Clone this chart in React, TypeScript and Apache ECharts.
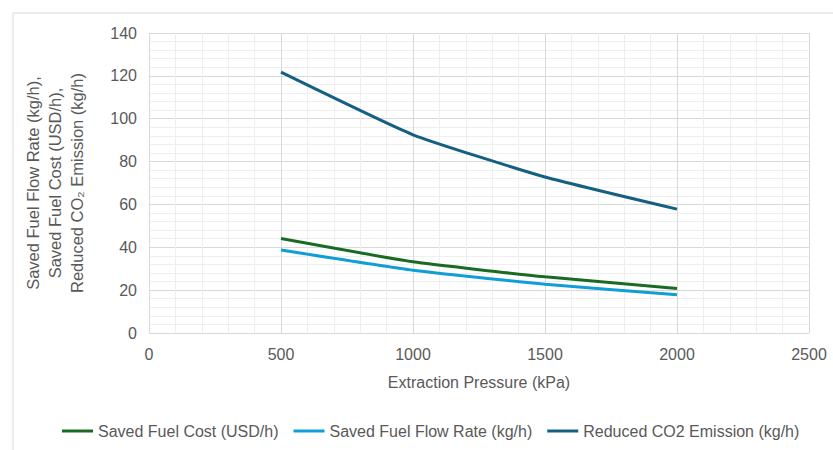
import React, { useEffect, useRef } from "react";
import * as echarts from "echarts";

const pressures = [500, 1000, 1500, 2000];
const savedFuelCost = [44.1, 33.2, 26.2, 20.8];
const savedFuelFlow = [38.7, 29.3, 22.8, 17.8];
const reducedCO2 = [121.7, 92.5, 72.8, 57.8];

const seriesNames = [
  "Saved Fuel Cost (USD/h)",
  "Saved Fuel Flow Rate (kg/h)",
  "Reduced CO2 Emission (kg/h)",
];
const seriesColors = ["#196B24", "#0F9ED5", "#156082"];
const yTitleLines = [
  "Saved Fuel Flow Rate (kg/h),",
  "Saved Fuel Cost (USD/h),",
  "Reduced CO₂ Emission (kg/h)",
];
const xTitle = "Extraction Pressure (kPa)";

const FONT = "'Liberation Sans', Arial, sans-serif";
const TEXT = "#595959";

export default function App() {
  const ref = useRef<HTMLDivElement>(null);

  useEffect(() => {
    if (!ref.current) return;
    const chart = echarts.init(ref.current, null, { renderer: "svg" });
    const values = [savedFuelCost, savedFuelFlow, reducedCO2];
    chart.setOption({
      animation: false,
      backgroundColor: "#ffffff",
      grid: { left: 149, right: 24, top: 33, bottom: 117 },
      xAxis: {
        type: "value",
        min: 0,
        max: 2500,
        interval: 500,
        name: xTitle,
        nameLocation: "middle",
        nameGap: 41,
        nameTextStyle: { color: TEXT, fontSize: 16, fontFamily: FONT },
        axisLine: { show: false },
        axisTick: { show: false },
        axisLabel: {
          color: TEXT,
          fontSize: 16,
          fontFamily: FONT,
          margin: 13,
          formatter: (v: number) => String(v),
        },
        splitLine: { show: true, lineStyle: { color: "#d9d9d9", width: 1 } },
        minorTick: { show: false, splitNumber: 5 },
        minorSplitLine: { show: true, lineStyle: { color: "#efefef", width: 1 } },
      },
      yAxis: {
        type: "value",
        min: 0,
        max: 140,
        interval: 20,
        axisLine: { show: false },
        axisTick: { show: false },
        axisLabel: { color: TEXT, fontSize: 16, fontFamily: FONT, margin: 12 },
        splitLine: { show: true, lineStyle: { color: "#d9d9d9", width: 1 } },
        minorTick: { show: false, splitNumber: 5 },
        minorSplitLine: { show: true, lineStyle: { color: "#efefef", width: 1 } },
      },
      legend: {
        bottom: 6,
        left: 57,
        icon: "rect",
        itemWidth: 31,
        itemHeight: 3,
        itemGap: 15,
        textStyle: { color: TEXT, fontSize: 16, fontFamily: FONT },
        data: seriesNames,
      },
      graphic: [
        {
          type: "rect",
          shape: { x: 13, y: 13, width: 900, height: 600 },
          style: { fill: "none", stroke: "#d9d9d9", lineWidth: 1 },
          silent: true,
          z: -1,
        },
        {
          type: "text",
          x: 55,
          y: 183,
          rotation: Math.PI / 2,
          style: {
            text: yTitleLines.join("\n"),
            fill: TEXT,
            font: `16.5px ${FONT}`,
            lineHeight: 22,
            align: "center",
            verticalAlign: "middle",
          },
        },
      ],
      series: seriesNames.map((name, i) => ({
        name,
        type: "line",
        smooth: 0.15,
        showSymbol: false,
        symbol: "none",
        color: seriesColors[i],
        lineStyle: { width: 3, color: seriesColors[i] },
        data: pressures.map((p, j) => [p, values[i][j]]),
      })),
    });
    return () => chart.dispose();
  }, []);

  return (
    <div
      ref={ref}
      style={{ position: "fixed", left: 0, top: 0, width: 833, height: 450 }}
    />
  );
}
